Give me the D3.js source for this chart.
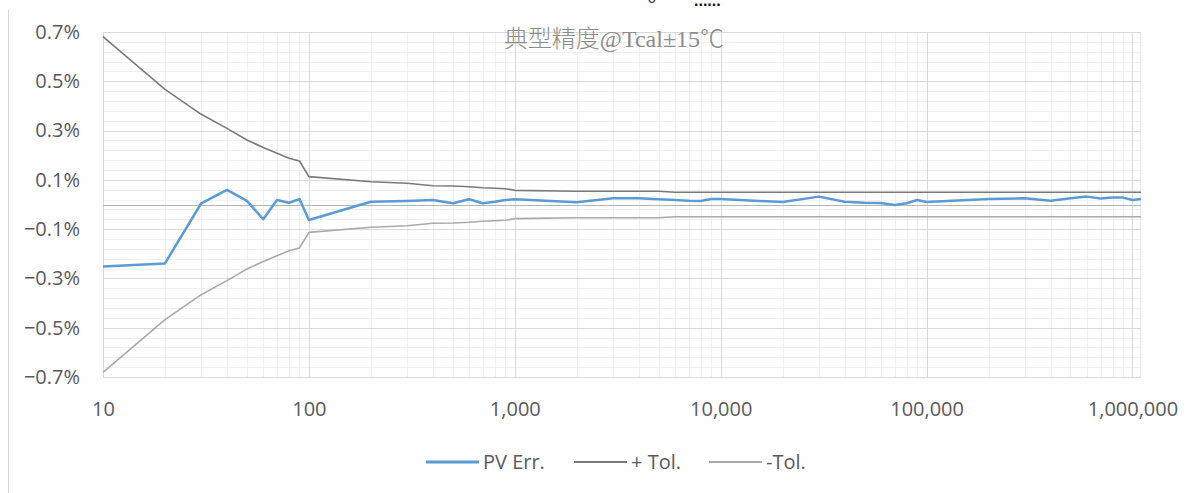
<!DOCTYPE html>
<html>
<head>
<meta charset="utf-8">
<script src="https://cdn.jsdelivr.net/npm/d3@7"></script>
<style>
  body { margin: 0; background: #fff; }
  svg { display: block; }
  .tick text { fill: #595959; font-family: "Open Sans", "Liberation Sans", sans-serif; font-size: 20px; }
</style>
</head>
<body>
<svg id="chart" width="1187" height="493"></svg>
<script>
// readings (x in counts, y in percent)
var xVals = [10, 20, 30, 40, 50, 60, 70, 80, 90,
  100, 200, 300, 400, 500, 600, 700, 800, 900,
  1000, 2000, 3000, 4000, 5000, 6000, 7000, 8000, 9000,
  10000, 20000, 30000, 40000, 50000, 60000, 70000, 80000, 90000,
  100000, 200000, 300000, 400000, 500000, 600000, 700000, 800000, 900000,
  1000000, 1100000];

var pvErr = [-0.252, -0.239, 0.005, 0.059, 0.015, -0.060, 0.018, 0.007, 0.022,
  -0.063, 0.011, 0.014, 0.018, 0.005, 0.021, 0.005, 0.011, 0.018,
  0.021, 0.009, 0.025, 0.025, 0.021, 0.018, 0.015, 0.014, 0.022,
  0.022, 0.010, 0.032, 0.011, 0.007, 0.006, -0.002, 0.005, 0.018,
  0.010, 0.022, 0.025, 0.015, 0.025, 0.032, 0.024, 0.028, 0.028,
  0.018, 0.022];

var plusTol = [0.681, 0.4675, 0.366, 0.309, 0.262, 0.231, 0.208, 0.1875, 0.1765,
  0.113, 0.0925, 0.086, 0.076, 0.075, 0.072, 0.068, 0.066, 0.064,
  0.0575, 0.054, 0.054, 0.054, 0.054, 0.050, 0.050, 0.050, 0.050,
  0.050, 0.050, 0.050, 0.050, 0.050, 0.050, 0.050, 0.050, 0.050,
  0.050, 0.050, 0.050, 0.050, 0.050, 0.050, 0.050, 0.050, 0.050,
  0.050, 0.050];

var minusTol = [-0.681, -0.4675, -0.366, -0.309, -0.262, -0.231, -0.208, -0.1875, -0.1765,
  -0.113, -0.0925, -0.086, -0.076, -0.075, -0.072, -0.068, -0.066, -0.064,
  -0.0575, -0.054, -0.054, -0.054, -0.054, -0.050, -0.050, -0.050, -0.050,
  -0.050, -0.050, -0.050, -0.050, -0.050, -0.050, -0.050, -0.050, -0.050,
  -0.050, -0.050, -0.050, -0.050, -0.050, -0.050, -0.050, -0.050, -0.050,
  -0.050, -0.050];

var xMajor = [10, 100, 1000, 10000, 100000, 1000000];
var yMajor = [-0.7, -0.5, -0.3, -0.1, 0.1, 0.3, 0.5, 0.7];
var seriesNames = ["PV Err.", "+ Tol.", "-Tol."];
var seriesColors = ["#5b9bd5", "#7a7a7a", "#a9a9a9"];
var titleText = "典型精度@Tcal±15℃";

var svg = d3.select("#chart"),
    margin = {top: 32, right: 46, bottom: 116, left: 103},
    width = +svg.attr("width") - margin.left - margin.right,
    height = +svg.attr("height") - margin.top - margin.bottom;

var x = d3.scaleLog().domain([10, 1100000]).range([0, width]),
    y = d3.scaleLinear().domain([-0.7, 0.7]).range([height, 0]);

// outer chart border (only the left edge shows)
svg.append("line")
    .attr("x1", 8.5).attr("x2", 8.5).attr("y1", 10).attr("y2", 493)
    .attr("stroke", "#d9d9d9");

// bits of the text above the crop, cut off as in the source
svg.append("text").attr("x", 652).attr("y", 3).attr("text-anchor", "middle")
    .style("font-family", "Liberation Sans").style("font-size", "14px").attr("fill", "#333").text("o");
svg.append("text").attr("x", 694).attr("y", 6)
    .style("font-family", "Liberation Sans").style("font-size", "16px").style("font-weight", "bold")
    .attr("fill", "#111").text("......");

var g = svg.append("g")
    .attr("transform", "translate(" + margin.left + "," + margin.top + ")");

// minor gridlines
var xMinor = [];
xMajor.slice(0, 5).forEach(function(m) {
  for (var k = 2; k <= 9; k++) xMinor.push(m * k);
});
var yMinor = d3.range(-0.7, 0.7001, 0.04).filter(function(v) {
  return !yMajor.some(function(m) { return Math.abs(m - v) < 1e-6; });
});

g.append("g").selectAll("line").data(yMinor).enter().append("line")
    .attr("x1", 0).attr("x2", width)
    .attr("y1", function(d) { return Math.round(y(d)) + 0.5; })
    .attr("y2", function(d) { return Math.round(y(d)) + 0.5; })
    .attr("stroke", "#f0f0f0");

g.append("g").selectAll("line").data(xMinor).enter().append("line")
    .attr("x1", function(d) { return Math.round(x(d)) + 0.5; })
    .attr("x2", function(d) { return Math.round(x(d)) + 0.5; })
    .attr("y1", 0).attr("y2", height)
    .attr("stroke", "#f0f0f0");

// right edge of plot
g.append("line")
    .attr("x1", width - 0.5).attr("x2", width - 0.5).attr("y1", 0).attr("y2", height)
    .attr("stroke", "#e6e6e6");

// major gridlines
g.append("g").selectAll("line").data(yMajor).enter().append("line")
    .attr("x1", 0).attr("x2", width)
    .attr("y1", function(d) { return Math.round(y(d)) + 0.5; })
    .attr("y2", function(d) { return Math.round(y(d)) + 0.5; })
    .attr("stroke", "#d9d9d9");

g.append("g").selectAll("line").data(xMajor).enter().append("line")
    .attr("x1", function(d) { return Math.round(x(d)) + 0.5; })
    .attr("x2", function(d) { return Math.round(x(d)) + 0.5; })
    .attr("y1", 0).attr("y2", height)
    .attr("stroke", "#d9d9d9");

// zero line
g.append("line")
    .attr("x1", 0).attr("x2", width)
    .attr("y1", Math.round(y(0)) + 0.5).attr("y2", Math.round(y(0)) + 0.5)
    .attr("stroke", "#b4b4b4").attr("stroke-width", 1.2);

// axes
g.append("g")
    .attr("class", "axis axis--x")
    .attr("transform", "translate(0," + height + ")")
    .call(d3.axisBottom(x).tickValues(xMajor).tickSize(0).tickPadding(25)
      .tickFormat(d3.format(",")))
    .call(function(a) { a.select(".domain").remove(); });

g.append("g")
    .attr("class", "axis axis--y")
    .call(d3.axisLeft(y).tickValues(yMajor).tickSize(0).tickPadding(23)
      .tickFormat(function(d) { return d3.format(".1f")(d) + "%"; }))
    .call(function(a) { a.select(".domain").remove(); });

// title inside plot
g.append("text")
    .attr("x", 614 - margin.left).attr("y", 47 - margin.top)
    .attr("text-anchor", "middle")
    .style("font-family", "'Liberation Serif', 'Noto Sans CJK SC', serif")
    .style("font-size", "24px")
    .style("font-weight", "300")
    .attr("fill", "#8c8c8c")
    .text(titleText);

// lines
var series = [pvErr, plusTol, minusTol];
var widths = [2.5, 1.6, 1.6];
var line = d3.line()
    .x(function(d, i) { return x(xVals[i]); })
    .y(function(d) { return y(d); });

[2, 1, 0].forEach(function(s) {
  g.append("path")
      .datum(series[s])
      .attr("fill", "none")
      .attr("stroke", seriesColors[s])
      .attr("stroke-width", widths[s])
      .attr("stroke-linejoin", "round")
      .attr("d", line);
});

// legend
var legendX = [426, 574, 709];
var legend = svg.append("g");
seriesNames.forEach(function(name, i) {
  legend.append("line")
      .attr("x1", legendX[i]).attr("x2", legendX[i] + 53)
      .attr("y1", 462).attr("y2", 462)
      .attr("stroke", seriesColors[i]).attr("stroke-width", widths[i] + 0.4);
  legend.append("text")
      .attr("x", legendX[i] + 57).attr("y", 469)
      .attr("fill", "#595959")
      .style("font-family", "'Open Sans', 'Liberation Sans', sans-serif")
      .style("font-size", "20px")
      .text(name);
});
</script>
</body>
</html>
